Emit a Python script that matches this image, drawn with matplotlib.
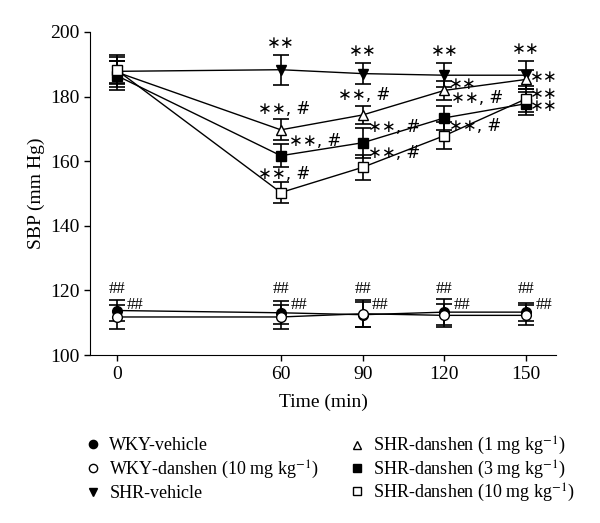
import matplotlib
matplotlib.use("Agg")
import matplotlib.pyplot as plt

plt.rcParams['font.family'] = ['Liberation Serif', 'DejaVu Sans']
plt.rcParams['mathtext.fontset'] = 'stix'

time_min = [0, 60, 90, 120, 150]

wky_vehicle = [113.8, 113.1, 112.5, 113.3, 113.3]
wky_vehicle_err = [3.3, 3.6, 3.8, 4.0, 2.8]
wky_danshen = [111.8, 111.8, 112.8, 112.3, 112.3]
wky_danshen_err = [3.6, 3.6, 4.1, 3.6, 3.1]
shr_vehicle = [187.8, 188.3, 187.1, 186.6, 186.6]
shr_vehicle_err = [5.0, 4.7, 3.3, 3.8, 4.4]
shr_1 = [187.5, 169.7, 174.3, 181.9, 185.3]
shr_1_err = [3.5, 3.2, 2.9, 3.0, 3.0]
shr_3 = [186.4, 161.7, 165.7, 173.4, 177.8]
shr_3_err = [4.5, 3.6, 4.6, 3.8, 3.5]
shr_10 = [188.1, 150.3, 158.1, 167.9, 179.3]
shr_10_err = [4.0, 3.3, 3.9, 4.1, 4.0]

labels = ['WKY-vehicle', 'WKY-danshen (10 mg kg$^{-1}$)', 'SHR-vehicle',
          'SHR-danshen (1 mg kg$^{-1}$)', 'SHR-danshen (3 mg kg$^{-1}$)',
          'SHR-danshen (10 mg kg$^{-1}$)']

# annotations: (text, x, y)
star_notes = [('∗∗', 60, 196.6), ('∗∗', 90, 194.0), ('∗∗', 120, 194.0), ('∗∗', 150, 194.6)]
left_notes = [('∗∗, #', 51.5, 176.0), ('∗∗, #', 63, 166.4), ('∗∗, #', 51.5, 156.1),
              ('∗∗, #', 81, 180.4), ('∗∗, #', 92, 170.6), ('∗∗, #', 92, 162.5),
              ('∗∗', 121.5, 183.8), ('∗∗, #', 122.5, 179.4), ('∗∗, #', 121.5, 170.8),
              ('∗∗', 151.5, 185.9), ('∗∗', 151.5, 180.8), ('∗∗', 151.5, 177.0)]

fig = plt.figure(figsize=(6, 5.23), dpi=100)
ax = fig.add_axes([0.15, 0.321, 0.777, 0.618])

series = [
    (wky_vehicle, wky_vehicle_err, 'o', 'black', 7),
    (wky_danshen, wky_danshen_err, 'o', 'white', 7),
    (shr_vehicle, shr_vehicle_err, 'v', 'black', 7),
    (shr_1, shr_1_err, '^', 'white', 7),
    (shr_3, shr_3_err, 's', 'black', 6.5),
    (shr_10, shr_10_err, 's', 'white', 6.5),
]
handles = []
for (vals, err, mk, fc, ms), lab in zip(series, labels):
    ax.errorbar(time_min, vals, yerr=err, fmt='none', ecolor='black',
                elinewidth=1.2, capsize=5.5, capthick=1.2, zorder=2)
    ax.plot(time_min, vals, color='black', lw=1.0, zorder=3)
    h, = ax.plot(time_min, vals, linestyle='none', marker=mk, markersize=ms,
                 markerfacecolor=fc, markeredgecolor='black', markeredgewidth=1.0,
                 zorder=4, label=lab)
    handles.append(h)

note_font = ['DejaVu Sans', 'Liberation Serif']
for t, x, y in star_notes:
    ax.text(x, y, t, ha='center', va='center', fontsize=12, family=note_font)
for t, x, y in left_notes:
    ax.text(x, y, t, ha='left', va='center', fontsize=12, family=note_font)

for x in time_min:
    ax.text(x, 120.5, '##', ha='center', va='center', fontsize=12)
    ax.text(x + 3.5, 115.4, '##', ha='left', va='center', fontsize=12)

ax.set_xlim(-10, 161)
ax.set_ylim(100, 200)
ax.set_xticks(time_min)
ax.set_yticks([100, 120, 140, 160, 180, 200])
ax.spines['top'].set_visible(False)
ax.spines['right'].set_visible(False)
ax.tick_params(labelsize=14, direction='out', length=4, width=1)
ax.set_xlabel('Time (min)', fontsize=14, labelpad=8)
ax.set_ylabel('SBP (mm Hg)', fontsize=14)

leg_kw = dict(frameon=False, loc='upper left', fontsize=13, handlelength=0.8,
              handletextpad=0.5, markerscale=0.85, borderaxespad=0)
fig.legend(handles=handles[:3], labels=labels[:3], labelspacing=0.25,
           bbox_to_anchor=(0.131, 0.178), **leg_kw)
fig.legend(handles=handles[3:], labels=labels[3:], labelspacing=0.05,
           bbox_to_anchor=(0.571, 0.182), **leg_kw)

fig.savefig('out.png', dpi=100)
